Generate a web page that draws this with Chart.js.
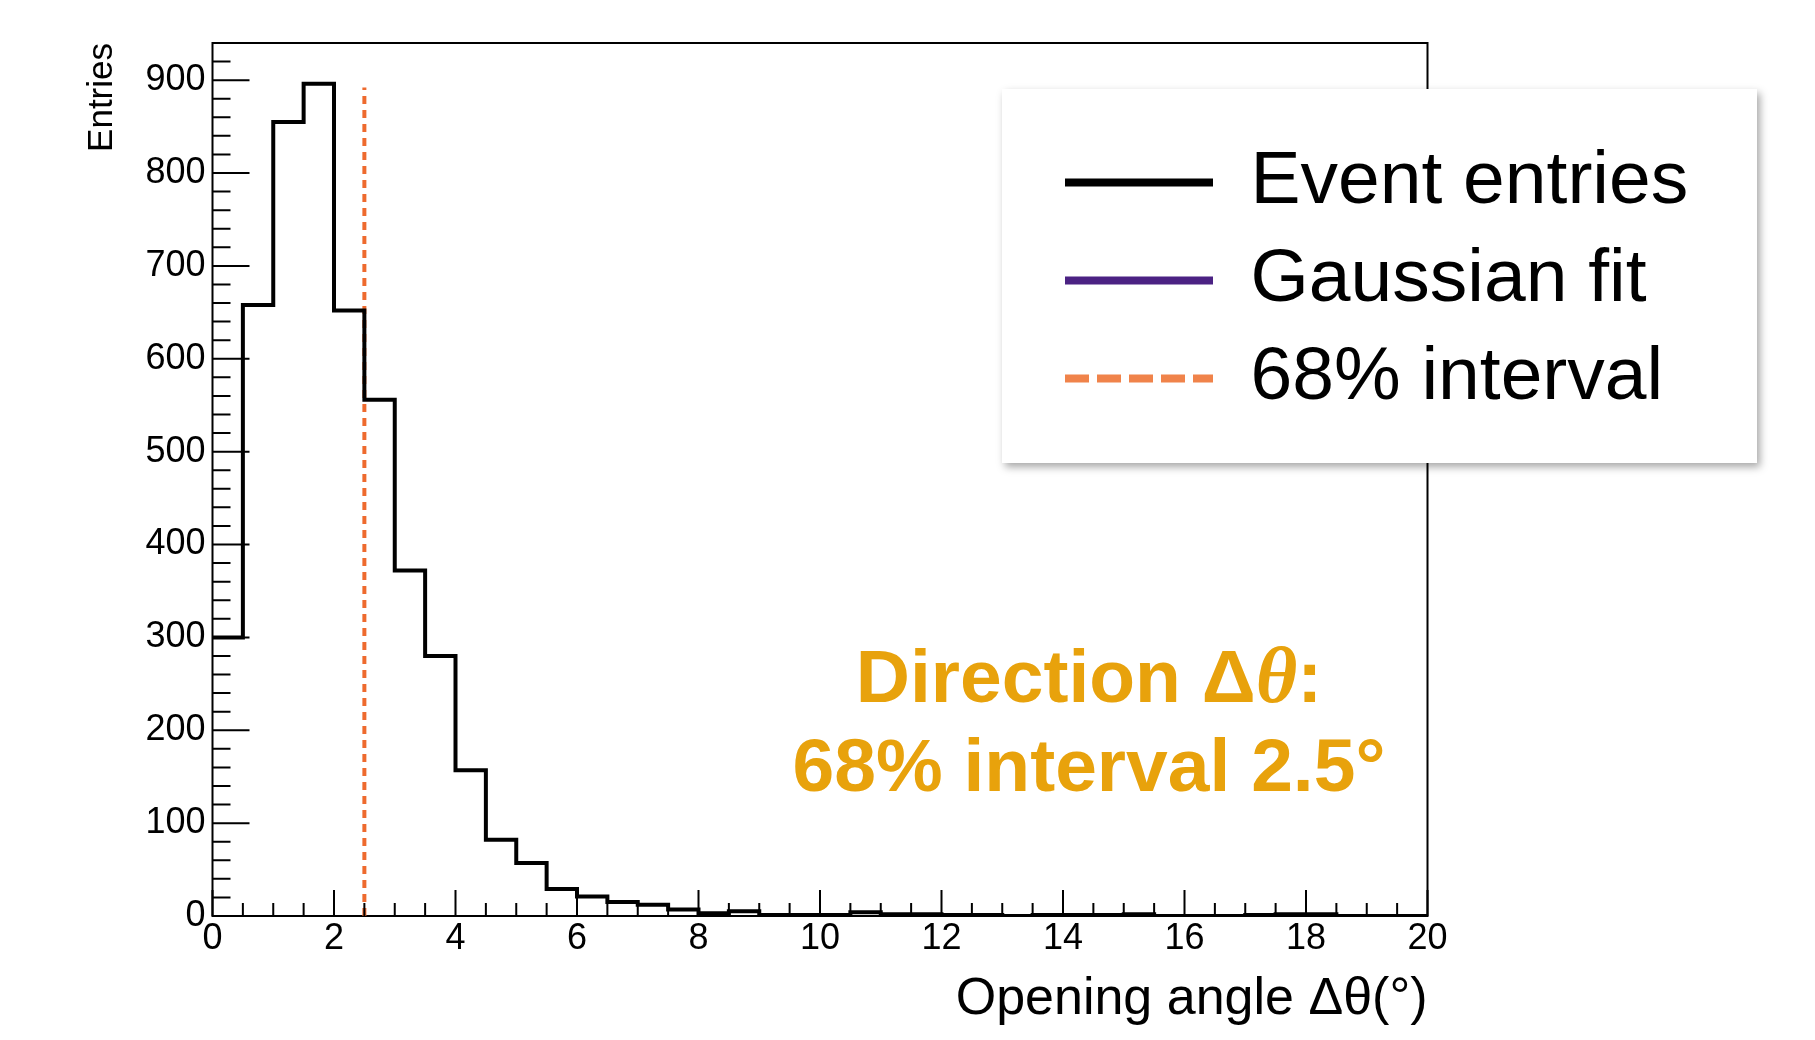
<!DOCTYPE html>
<html>
<head>
<meta charset="utf-8">
<title>Opening angle</title>
<script src="https://cdn.jsdelivr.net/npm/chart.js@4.4.1/dist/chart.umd.min.js"></script>
<style>
    html, body { margin: 0; padding: 0; background: #fff; }
    canvas { display: block; }
</style>
</head>
<body>
<canvas id="angleChart" width="1815" height="1040"></canvas>
<script>
// Entries per 0.5 degree bin, from 0 to 20 degrees
const binWidth = 0.5;
const entries = [
    300, 658, 855, 896, 652, 556, 372, 280, 157, 82,
    57, 29, 21, 15, 12, 7, 3, 5, 1, 1,
    1, 4, 2, 2, 1, 1, 0, 1, 1, 1,
    2, 0, 0, 0, 1, 2, 2, 0, 0, 0
];

// 68% interval marker
const interval68 = 2.5;
const intervalTop = 892;

const xTickLabels = [0, 2, 4, 6, 8, 10, 12, 14, 16, 18, 20];
const yTickLabels = [0, 100, 200, 300, 400, 500, 600, 700, 800, 900];
const xMax = 20;
const yMax = 940;

const FONT = '"Liberation Sans", Arial, Helvetica, sans-serif';
Chart.defaults.font.family = FONT;
Chart.defaults.color = '#000';

// step outline: one point per lower bin edge, plus the closing edge
const histPoints = entries.map((n, i) => ({ x: i * binWidth, y: n }));
histPoints.push({ x: entries.length * binWidth, y: entries[entries.length - 1] });

const legendBox = { left: 1002, top: 89, right: 1757, bottom: 463 };

const rootStyle = {
    id: 'rootStyle',

    afterLayout(chart) {
        // put the legend inside the white box over the plot
        const lg = chart.legend;
        if (!lg) return;
        lg.left = legendBox.left + 40;
        lg.top = legendBox.top + 33;
        lg.right = legendBox.right;
        lg.bottom = legendBox.bottom;
        lg.width = lg.right - lg.left;
        lg.height = lg.bottom - lg.top;
    },

    beforeDraw(chart) {
        const { ctx, chartArea: a } = chart;
        ctx.save();
        ctx.strokeStyle = '#000';
        ctx.lineWidth = 2;
        ctx.strokeRect(a.left, a.top, a.right - a.left, a.bottom - a.top);

        // legend box with soft shadow
        ctx.shadowColor = 'rgba(0, 0, 0, 0.35)';
        ctx.shadowBlur = 8;
        ctx.shadowOffsetX = 3;
        ctx.shadowOffsetY = 4;
        ctx.fillStyle = '#fff';
        ctx.fillRect(legendBox.left, legendBox.top,
            legendBox.right - legendBox.left, legendBox.bottom - legendBox.top);
        ctx.restore();
    },

    afterDatasetsDraw(chart) {
        // ticks point into the frame, ROOT style
        const { ctx, chartArea: a, scales: { x, y } } = chart;
        ctx.save();
        ctx.strokeStyle = '#000';
        ctx.lineWidth = 2;
        ctx.beginPath();
        for (let v = 0; v <= xMax; v += 0.5) {
            const px = x.getPixelForValue(v);
            const len = v % 2 === 0 ? 26 : 13;
            ctx.moveTo(px, a.bottom);
            ctx.lineTo(px, a.bottom - len);
        }
        for (let v = 0; v < yMax; v += 20) {
            const py = y.getPixelForValue(v);
            const len = v % 100 === 0 ? 37 : 18;
            ctx.moveTo(a.left, py);
            ctx.lineTo(a.left + len, py);
        }
        ctx.stroke();
        ctx.restore();
    },

    afterDraw(chart) {
        const ctx = chart.ctx;
        const bold = `bold 75px ${FONT}`;
        drawRuns(ctx, [
            { text: 'Direction Δ', font: bold },
            { text: 'θ', font: 'italic bold 80px "Liberation Serif", "Times New Roman", serif' },
            { text: ':', font: bold }
        ], 1089, 702);
        drawRuns(ctx, [{ text: '68% interval 2.5°', font: bold }], 1089, 791);
    }
};

function drawRuns(ctx, runs, cx, baseline) {
    ctx.save();
    ctx.fillStyle = '#E8A20C';
    ctx.textBaseline = 'alphabetic';
    ctx.textAlign = 'left';
    const widths = runs.map(r => { ctx.font = r.font; return ctx.measureText(r.text).width; });
    let x = cx - widths.reduce((s, w) => s + w, 0) / 2;
    runs.forEach((r, i) => {
        ctx.font = r.font;
        ctx.fillText(r.text, x, baseline);
        x += widths[i];
    });
    ctx.restore();
}

new Chart(document.getElementById('angleChart'), {
    type: 'line',
    data: {
        datasets: [
            {
                label: 'Event entries',
                data: histPoints,
                stepped: 'before',
                borderColor: '#000',
                borderWidth: 4,
                pointRadius: 0,
                fill: false,
                legendColor: '#000'
            },
            {
                label: 'Gaussian fit',
                data: [],
                borderColor: '#4B2283',
                borderWidth: 3,
                pointRadius: 0,
                legendColor: '#4B2283'
            },
            {
                label: '68% interval',
                data: [{ x: interval68, y: 0 }, { x: interval68, y: intervalTop }],
                borderColor: '#EE6A2E',
                borderWidth: 4,
                borderDash: [8, 6],
                pointRadius: 0,
                fill: false,
                legendColor: '#F0834A',
                legendDash: [24, 8]
            }
        ]
    },
    options: {
        responsive: false,
        animation: false,
        devicePixelRatio: 1,
        layout: { padding: { left: 0, top: 43, right: 387.5, bottom: 0 } },
        plugins: {
            tooltip: { enabled: false },
            legend: {
                position: 'chartArea',
                align: 'start',
                labels: {
                    font: { size: 75 },
                    color: '#000',
                    usePointStyle: true,
                    pointStyle: 'line',
                    pointStyleWidth: 148,
                    padding: 23,
                    generateLabels(chart) {
                        const items = Chart.defaults.plugins.legend.labels.generateLabels(chart);
                        return items.map(item => {
                            const ds = chart.data.datasets[item.datasetIndex];
                            return Object.assign(item, {
                                lineWidth: 8,
                                strokeStyle: ds.legendColor,
                                fillStyle: ds.legendColor,
                                lineDash: ds.legendDash || [],
                                pointStyle: 'line'
                            });
                        });
                    }
                }
            }
        },
        scales: {
            x: {
                type: 'linear',
                min: 0,
                max: xMax,
                grid: { display: false, drawTicks: false },
                border: { display: false },
                afterBuildTicks: s => { s.ticks = xTickLabels.map(v => ({ value: v })); },
                ticks: { font: { size: 36 }, color: '#000', padding: 1, maxRotation: 0, autoSkip: false },
                title: {
                    display: true,
                    text: 'Opening angle Δθ(°)',
                    align: 'end',
                    color: '#000',
                    font: { size: 52 },
                    padding: { top: 0, bottom: 9 }
                },
                afterFit: s => { s.height = 124; }
            },
            y: {
                type: 'linear',
                min: 0,
                max: yMax,
                grid: { display: false, drawTicks: false },
                border: { display: false },
                afterBuildTicks: s => { s.ticks = yTickLabels.map(v => ({ value: v })); },
                ticks: { font: { size: 36 }, color: '#000', padding: 7 },
                title: {
                    display: true,
                    text: 'Entries',
                    align: 'end',
                    color: '#000',
                    font: { size: 35 },
                    padding: { top: 81, bottom: 0 }
                },
                afterFit: s => { s.width = 212.5; }
            }
        }
    },
    plugins: [rootStyle]
});
</script>
</body>
</html>
